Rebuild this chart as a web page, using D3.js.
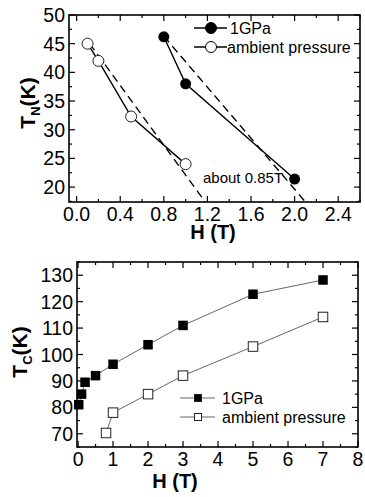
<!DOCTYPE html>
<html>
<head>
<meta charset="utf-8">
<script src="https://cdn.jsdelivr.net/npm/d3@7"></script>
<style>
  body { margin: 0; background: #fff; }
  svg { font-family: 'Liberation Sans', Arial, sans-serif; }
</style>
</head>
<body>
<svg id="chart" width="365" height="497"></svg>
<script>
// top panel: Neel temperature vs field
var tnHighP = [[0.8, 46.2], [1.0, 38.0], [2.0, 21.4]];
var tnAmbient = [[0.1, 45.0], [0.2, 42.0], [0.5, 32.3], [1.0, 24.0]];
var tnFitHighP = [[0.8, 46.3], [2.1, 17.4]];
var tnFitAmbient = [[0.12, 45.0], [1.18, 17.4]];
var tnXTicks = [0.0, 0.4, 0.8, 1.2, 1.6, 2.0, 2.4];
var tnYTicks = [20, 25, 30, 35, 40, 45, 50];

// bottom panel: Tc vs field
var tcHighP = [[0.02, 81], [0.1, 85], [0.2, 89.5], [0.5, 92], [1, 96.3], [2, 103.7], [3, 111], [5, 122.8], [7, 128.2]];
var tcAmbient = [[0.8, 70.3], [1, 78], [2, 85], [3, 92], [5, 103], [7, 114.2]];
var tcXTicks = [0, 1, 2, 3, 4, 5, 6, 7, 8];
var tcYTicks = [70, 80, 90, 100, 110, 120, 130];

var svg = d3.select('#chart');

function frame(g, x, y, xMajor, xMinorStep, yMajor, yMinorStep, xFmt) {
  var w = x.range()[1] - x.range()[0];
  var h = y.range()[0] - y.range()[1];
  var xd = x.domain(), yd = y.domain();
  var xMinor = d3.range(Math.ceil(xd[0] / xMinorStep) * xMinorStep, xd[1] + 1e-9, xMinorStep);
  var yMinor = d3.range(Math.ceil(yd[0] / yMinorStep) * yMinorStep, yd[1] + 1e-9, yMinorStep);

  xMinor.forEach(function (v) {
    var major = xMajor.some(function (m) { return Math.abs(m - v) < 1e-6; });
    var len = major ? 6 : 3;
    g.append('line').attr('x1', x(v)).attr('x2', x(v)).attr('y1', h).attr('y2', h - len).attr('stroke', '#000').attr('stroke-width', 1.2);
    g.append('line').attr('x1', x(v)).attr('x2', x(v)).attr('y1', 0).attr('y2', len).attr('stroke', '#000').attr('stroke-width', 1.2);
  });
  yMinor.forEach(function (v) {
    var major = yMajor.some(function (m) { return Math.abs(m - v) < 1e-6; });
    var len = major ? 6 : 3;
    g.append('line').attr('y1', y(v)).attr('y2', y(v)).attr('x1', 0).attr('x2', len).attr('stroke', '#000').attr('stroke-width', 1.2);
    g.append('line').attr('y1', y(v)).attr('y2', y(v)).attr('x1', w).attr('x2', w - len).attr('stroke', '#000').attr('stroke-width', 1.2);
  });

  g.append('rect').attr('width', w).attr('height', h)
    .attr('fill', 'none').attr('stroke', '#000').attr('stroke-width', 1.6);

  g.selectAll('.xl').data(xMajor).enter().append('text')
    .attr('x', function (d) { return x(d); })
    .attr('y', h + 19)
    .attr('text-anchor', 'middle')
    .attr('font-size', 19.5)
    .text(xFmt);

  g.selectAll('.yl').data(yMajor).enter().append('text')
    .attr('x', -4)
    .attr('y', function (d) { return y(d) + 7; })
    .attr('text-anchor', 'end')
    .attr('font-size', 19.5)
    .text(function (d) { return d; });
}

// ---------- top panel ----------
var m1 = { left: 69, right: 360, top: 15, bottom: 202 };
var x1 = d3.scaleLinear().domain([-0.07, 2.6]).range([0, m1.right - m1.left]);
var y1 = d3.scaleLinear().domain([17.4, 50]).range([m1.bottom - m1.top, 0]);
var g1 = svg.append('g').attr('transform', 'translate(' + m1.left + ',' + m1.top + ')');

var line1 = d3.line().x(function (d) { return x1(d[0]); }).y(function (d) { return y1(d[1]); });

[tnFitAmbient, tnFitHighP].forEach(function (d) {
  g1.append('path').attr('d', line1(d)).attr('fill', 'none')
    .attr('stroke', '#000').attr('stroke-width', 1.4).attr('stroke-dasharray', '8,5');
});
g1.append('path').attr('d', line1(tnAmbient)).attr('fill', 'none').attr('stroke', '#000').attr('stroke-width', 1.4);
g1.append('path').attr('d', line1(tnHighP)).attr('fill', 'none').attr('stroke', '#000').attr('stroke-width', 1.4);

g1.selectAll('.ca').data(tnAmbient).enter().append('circle')
  .attr('cx', function (d) { return x1(d[0]); })
  .attr('cy', function (d) { return y1(d[1]); })
  .attr('r', 5.5).attr('fill', '#fff').attr('stroke', '#222').attr('stroke-width', 1);
g1.selectAll('.ch').data(tnHighP).enter().append('circle')
  .attr('cx', function (d) { return x1(d[0]); })
  .attr('cy', function (d) { return y1(d[1]); })
  .attr('r', 5.5).attr('fill', '#000');

g1.append('text').attr('x', 203 - m1.left).attr('y', 183 - m1.top)
  .attr('font-size', 15).text('about 0.85T');

frame(g1, x1, y1, tnXTicks, 0.2, tnYTicks, 2.5, function (d) { return d.toFixed(1); });

// legend top
var leg1 = [{ label: '1GPa', fill: '#000', y: 28 }, { label: 'ambient pressure', fill: '#fff', y: 47 }];
leg1.forEach(function (d) {
  svg.append('line').attr('x1', 194).attr('x2', 227).attr('y1', d.y).attr('y2', d.y)
    .attr('stroke', '#000').attr('stroke-width', 1.4);
  svg.append('circle').attr('cx', 211).attr('cy', d.y).attr('r', 5.5)
    .attr('fill', d.fill).attr('stroke', '#000').attr('stroke-width', 1);
  svg.append('text').attr('x', d.label === '1GPa' ? 230 : 227).attr('y', d.y + 6)
    .attr('font-size', 16).text(d.label);
});

// axis titles top
svg.append('text').attr('x', 213).attr('y', 239).attr('text-anchor', 'middle')
  .attr('font-size', 20).attr('font-weight', 'bold').text('H (T)');
var t1 = svg.append('text').attr('transform', 'translate(35,103) rotate(-90)')
  .attr('text-anchor', 'middle').attr('font-size', 21).attr('font-weight', 'bold');
t1.append('tspan').text('T');
t1.append('tspan').attr('font-size', 13).attr('dy', 5).text('N');
t1.append('tspan').attr('dy', -5).text('(K)');

// ---------- bottom panel ----------
var m2 = { left: 77, right: 358, top: 262, bottom: 447 };
var x2 = d3.scaleLinear().domain([-0.03, 8]).range([0, m2.right - m2.left]);
var y2 = d3.scaleLinear().domain([65, 135]).range([m2.bottom - m2.top, 0]);
var g2 = svg.append('g').attr('transform', 'translate(' + m2.left + ',' + m2.top + ')');
var line2 = d3.line().x(function (d) { return x2(d[0]); }).y(function (d) { return y2(d[1]); });

g2.append('path').attr('d', line2(tcHighP)).attr('fill', 'none').attr('stroke', '#666').attr('stroke-width', 1);
g2.append('path').attr('d', line2(tcAmbient)).attr('fill', 'none').attr('stroke', '#666').attr('stroke-width', 1);

var sq = 9.5;
g2.selectAll('.sh').data(tcHighP).enter().append('rect')
  .attr('x', function (d) { return x2(d[0]) - sq / 2; })
  .attr('y', function (d) { return y2(d[1]) - sq / 2; })
  .attr('width', sq).attr('height', sq).attr('fill', '#000');
g2.selectAll('.sa').data(tcAmbient).enter().append('rect')
  .attr('x', function (d) { return x2(d[0]) - sq / 2; })
  .attr('y', function (d) { return y2(d[1]) - sq / 2; })
  .attr('width', sq).attr('height', sq).attr('fill', '#fff').attr('stroke', '#222').attr('stroke-width', 1);

frame(g2, x2, y2, tcXTicks, 0.5, tcYTicks, 5, function (d) { return d; });

// legend bottom
var lsq = 7;
var leg2 = [{ label: '1GPa', fill: '#000', y: 398 }, { label: 'ambient pressure', fill: '#fff', y: 417 }];
leg2.forEach(function (d) {
  svg.append('line').attr('x1', 180).attr('x2', 215).attr('y1', d.y).attr('y2', d.y)
    .attr('stroke', '#666').attr('stroke-width', 1);
  svg.append('rect').attr('x', 198 - lsq / 2).attr('y', d.y - lsq / 2).attr('width', lsq).attr('height', lsq)
    .attr('fill', d.fill).attr('stroke', '#222').attr('stroke-width', 1);
  svg.append('text').attr('x', 222).attr('y', d.y + 6)
    .attr('font-size', 16).text(d.label);
});

svg.append('text').attr('x', 175).attr('y', 488).attr('text-anchor', 'middle')
  .attr('font-size', 20).attr('font-weight', 'bold').text('H (T)');
var t2 = svg.append('text').attr('transform', 'translate(27,352) rotate(-90)')
  .attr('text-anchor', 'middle').attr('font-size', 21).attr('font-weight', 'bold');
t2.append('tspan').text('T');
t2.append('tspan').attr('font-size', 13).attr('dy', 5).text('C');
t2.append('tspan').attr('dy', -5).text('(K)');
</script>
</body>
</html>
